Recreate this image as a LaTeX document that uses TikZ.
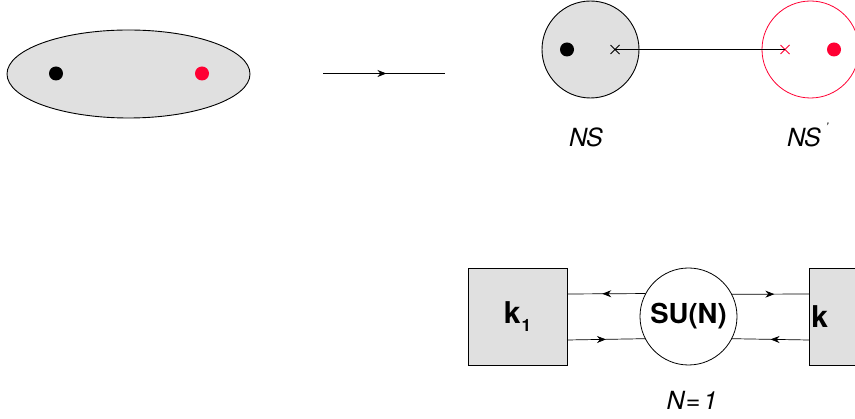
\documentclass[tikz,border=0pt]{standalone}
\usepackage{fontspec}
\setmainfont{TeX Gyre Heros}
\usetikzlibrary{shapes.geometric,arrows.meta,decorations.markings,calc}
\definecolor{boxgray}{RGB}{224,224,224}
\definecolor{nsred}{RGB}{255,0,51}
\begin{document}
\begin{tikzpicture}[x=1pt,y=-1pt,line width=0.9pt,
  dotb/.style={circle,fill=black,inner sep=0pt,minimum size=14pt},
  dotr/.style={circle,fill=nsred,inner sep=0pt,minimum size=14pt},
  bigc/.style={circle,draw,inner sep=0pt,minimum size=97pt},
  kbox/.style={draw,fill=boxgray,line width=0.6pt,inner sep=0pt,minimum width=99pt,minimum height=97pt,font=\bfseries\fontsize{30}{32}\selectfont},
  lbl/.style={font=\itshape\fontsize{25}{28}\selectfont,inner sep=0pt},
  midarr/.style={decoration={markings,mark=at position #1 with {\arrow{Stealth[length=9pt,width=7pt]}}},postaction={decorate}},
  wire/.style={line width=0.7pt}
]
\useasboundingbox (0,0) rectangle (855,419);
\clip (0,0) rectangle (855,419);
% top left
\node[ellipse,draw,fill=boxgray,inner sep=0pt,minimum width=243pt,minimum height=88pt] (ell) at (128.5,74) {};
\node[dotb] (d1) at (56,73.5) {};
\node[dotr] (d2) at (202,73.5) {};
\coordinate (a1) at (323,73.5);
\coordinate (a2) at (445,73.5);
\draw[midarr=0.52] (a1) -- (a2);
% top right
\node[bigc,fill=boxgray] (ns) at (590.5,49.5) {};
\node[bigc,draw=nsred,line width=0.8pt] (nsp) at (810.5,49.5) {};
\node[dotb] (d3) at (567,49.5) {};
\node[dotr] (d4) at (834,49.5) {};
\coordinate (x1) at (615,49.5);
\coordinate (x2) at (785,49.5);
\draw[line width=0.8pt] ([shift={(-4.5,-4.5)}]x1) -- ([shift={(4.5,4.5)}]x1) ([shift={(-4.5,4.5)}]x1) -- ([shift={(4.5,-4.5)}]x1);
\draw[nsred,line width=0.8pt] ([shift={(-4.5,-4.5)}]x2) -- ([shift={(4.5,4.5)}]x2) ([shift={(-4.5,4.5)}]x2) -- ([shift={(4.5,-4.5)}]x2);
\draw[line width=0.8pt] (x1) -- (x2);
\node[lbl] (l1) at (586,137) {N\kern-1ptS};
\node[lbl] (l2) at (804,137) {N\kern-1ptS};
\node[font=\itshape\fontsize{12}{12}\selectfont,inner sep=0pt] (pr) at (827,127) {'};
% bottom
\node[kbox] (k1) at (517.5,316.5) {k\kern1pt\raisebox{-8pt}{\fontsize{17}{17}\selectfont 1}};
\node[kbox,anchor=west] (k2) at (809,316.5) {};
\node[font=\bfseries\fontsize{30}{32}\selectfont,inner sep=0pt,anchor=west] (k2t) at (811,316.5) {k};
\node[bigc,fill=white,line width=0.8pt,font=\bfseries\fontsize{27.5}{29}\selectfont] (su) at (688.5,316.5) {SU(N)};
\coordinate (p1) at (567,294);
\coordinate (p2) at (567,340);
\coordinate (q1) at (809,294);
\coordinate (q2) at (809,340);
\draw[wire,midarr=0.55] (su.152.4) -- (p1);
\draw[wire,midarr=0.5] (p2) -- (su.207.6);
\draw[wire,midarr=0.55] (su.27.6) -- (q1);
\draw[wire,midarr=0.5] (q2) -- (su.-27.6);
\node[lbl] (nl) at (692,400) {N\kern1pt=\kern3pt1};
\end{tikzpicture}
\end{document}
